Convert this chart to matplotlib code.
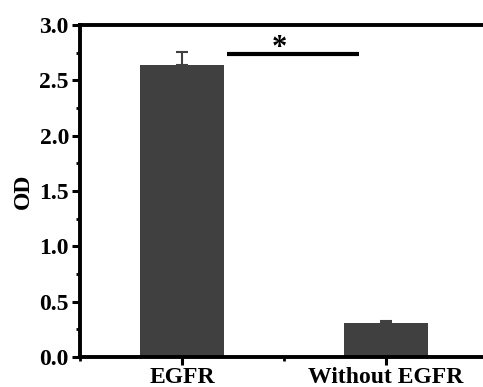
import matplotlib.pyplot as plt
import numpy as np
from matplotlib.ticker import MultipleLocator

# data
groups = ['EGFR', 'Without EGFR']
od_mean = [2.64, 0.31]
od_err = [0.12, 0.015]
sig_y = 2.74
sig_x = [0.22, 0.87]

plt.rcParams['font.family'] = ['Liberation Serif', 'DejaVu Serif']
plt.rcParams['font.weight'] = 'bold'

fig = plt.figure(figsize=(4.83, 3.87), dpi=100)
ax = fig.add_axes([80 / 483, 30 / 387, 408 / 483, 332 / 387])

x = np.arange(len(groups))
ax.bar(x, od_mean, width=0.41, color='#404040', zorder=2)
ax.errorbar(x, od_mean, yerr=[np.zeros(len(od_err)), od_err], fmt='none',
            ecolor='#404040', elinewidth=1.5, capsize=4, capthick=1.5, zorder=1)

# significance marker
ax.plot(sig_x, [sig_y, sig_y], color='black', linewidth=3, solid_capstyle='butt')
ax.text(np.mean(sig_x) - 0.07, sig_y - 0.08, '*', ha='center', va='bottom',
        fontsize=22, fontweight='bold')

ax.set_xlim(-0.5, 1.5)
ax.set_ylim(0, 3.0)
ax.set_xticks(x)
ax.set_xticklabels(groups, fontsize=17, fontweight='bold')
ax.xaxis.set_minor_locator(MultipleLocator(0.5))
ax.yaxis.set_major_locator(MultipleLocator(0.5))
ax.yaxis.set_minor_locator(MultipleLocator(0.25))
ax.set_yticklabels([f'{v:.1f}' for v in ax.get_yticks()], fontsize=17, fontweight='bold')
ax.set_ylabel('OD', fontsize=17, fontweight='bold', labelpad=4)

for s in ax.spines.values():
    s.set_linewidth(2.8)
ax.tick_params(axis='both', which='major', direction='out', length=6, width=2.2, pad=2)
ax.tick_params(axis='both', which='minor', direction='out', length=3, width=2)
ax.tick_params(axis='x', which='major', pad=1)

fig.savefig('out.png', dpi=100)
